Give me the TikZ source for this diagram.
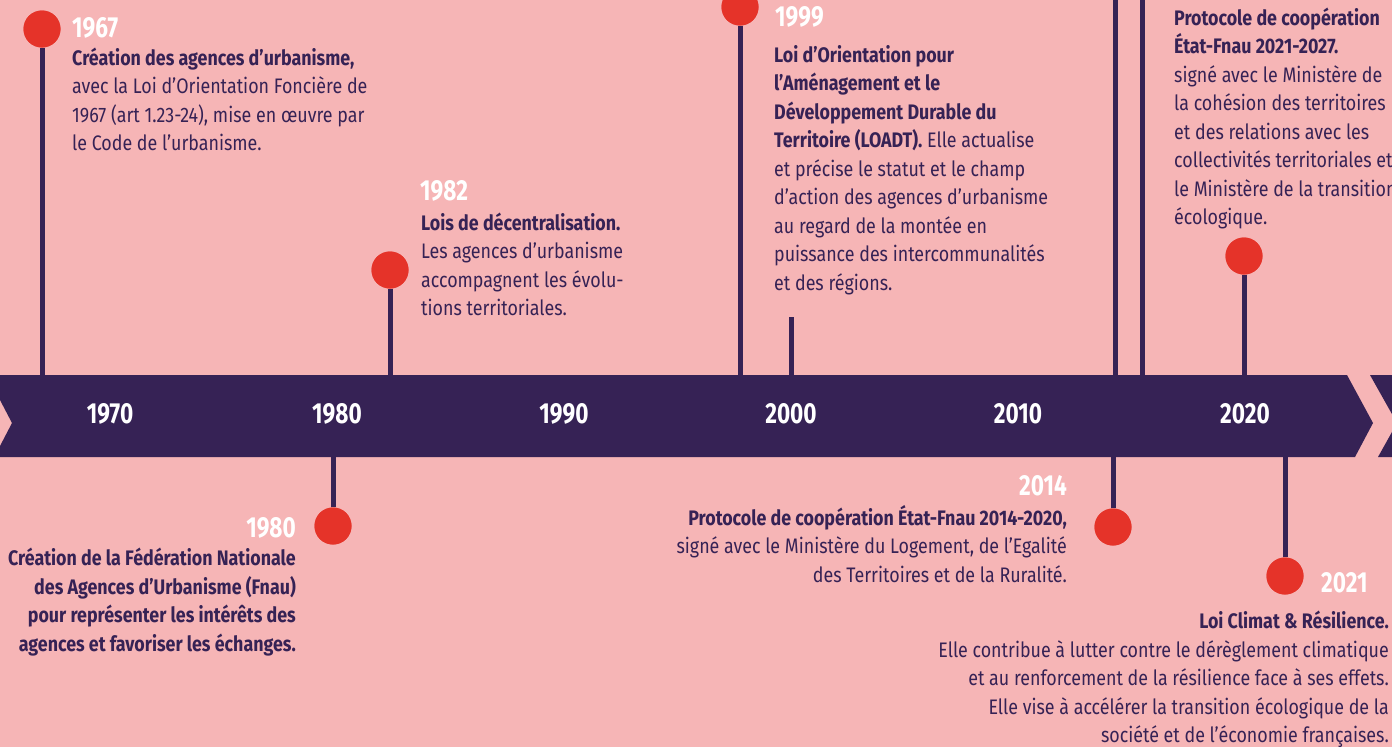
\documentclass[tikz,border=0pt]{standalone}
\usepackage{fontspec}
\setmainfont{Fira Sans}[FakeStretch=0.85]
\newfontfamily\yearfont{Fira Sans}[FakeStretch=0.78]
\definecolor{bgpink}{RGB}{246,181,182}
\definecolor{ink}{RGB}{54,34,85}
\definecolor{dotred}{RGB}{229,51,41}
\begin{document}
\begin{tikzpicture}[x=1pt,y=-1pt,
  stem/.style={draw=ink,line width=5pt},
  dot/.style={circle,fill=dotred,minimum size=37pt,inner sep=0pt},
  yearlbl/.style={text=white,font=\yearfont\fontsize{29}{30}\selectfont\bfseries,inner sep=0pt},
  bandyear/.style={yearlbl,anchor=base},
  bodytxt/.style={text=ink,font=\fontsize{21}{28.5}\selectfont,inner sep=0pt}]
\useasboundingbox (0,0) rectangle (1392,747);
\fill[bgpink] (0,0) rectangle (1392,747);
\begin{scope}
\clip (0,0) rectangle (1392,747);
% band
\fill[ink] (0,375) -- (1347,375) -- (1373,423) -- (1355,457) -- (0,457) -- (0,446) -- (12,423) -- (0,400) -- cycle;
\fill[ink] (1370,375) -- (1400,375) -- (1400,457) -- (1378,457) -- (1397,423) -- cycle;
% upper stems without dots
\coordinate (t1a) at (1115,0);
\coordinate (t1b) at (1115,375);
\coordinate (t2a) at (1142,0);
\coordinate (t2b) at (1142,375);
\coordinate (s2000a) at (791,317);
\coordinate (s2000b) at (791,375);
\draw[stem] (t1a) -- (t1b);
\draw[stem] (t2a) -- (t2b);
\draw[stem] (s2000a) -- (s2000b);
% dots
\node[dot] (d1967) at (42,29) {};
\node[dot] (d1980) at (333,526) {};
\node[dot] (d1982) at (390,270) {};
\node[dot] (d1999) at (740,7) {};
\node[dot] (d2014) at (1113,527) {};
\node[dot] (d2021) at (1285,576) {};
\node[dot] (d2027) at (1244,256) {};
\coordinate (b1967) at (42,375);
\coordinate (b1980) at (333,457);
\coordinate (b1982) at (390,375);
\coordinate (b1999) at (740,375);
\coordinate (b2014) at (1113,457);
\coordinate (b2021) at (1285,457);
\coordinate (b2027) at (1244,375);
\draw[stem] (d1967) -- (b1967);
\draw[stem] (d1980) -- (b1980);
\draw[stem] (d1982) -- (b1982);
\draw[stem] (d1999) -- (b1999);
\draw[stem] (d2014) -- (b2014);
\draw[stem] (d2021) -- (b2021);
\draw[stem] (d2027) -- (b2027);
\foreach \d in {d1967,d1980,d1982,d1999,d2014,d2021,d2027} {\node[dot] at (\d) {};}
% band years
\node[bandyear] (y1970) at (110,423) {1970};
\node[bandyear] (y1980) at (337,423) {1980};
\node[bandyear] (y1990) at (564,423) {1990};
\node[bandyear] (y2000) at (791,423) {2000};
\node[bandyear] (y2010) at (1018,423) {2010};
\node[bandyear] (y2020) at (1245,423) {2020};
% event labels (base anchor = baseline of the last line)
\node[yearlbl,anchor=base west] (l1967) at (72,37) {1967};
\node[bodytxt,anchor=base west,align=left] (t1967) at (72,150.5) {\bfseries Création des agences d’urbanisme,\\avec la Loi d’Orientation Foncière de\\1967 (art 1.23-24), mise en œuvre par\\le Code de l’urbanisme.};
\node[yearlbl,anchor=base west] (l1982) at (420,200) {1982};
\node[bodytxt,anchor=base west,align=left] (t1982) at (421,315.5) {\bfseries Lois de décentralisation.\\Les agences d’urbanisme\\accompagnent les évolu-\\tions territoriales.};
\node[yearlbl,anchor=base west] (l1999) at (775,26) {1999};
\node[bodytxt,anchor=base west,align=left] (t1999) at (774,290) {\bfseries Loi d’Orientation pour\\\bfseries l’Aménagement et le\\\bfseries Développement Durable du\\{\bfseries Territoire (LOADT).} Elle actualise\\et précise le statut et le champ\\d’action des agences d’urbanisme\\au regard de la montée en\\puissance des intercommunalités\\et des régions.};
\node[bodytxt,anchor=base west,align=left] (t2027) at (1174,224.5) {\bfseries Protocole de coopération\\\bfseries État-Fnau 2021-2027.\\signé avec le Ministère de\\la cohésion des territoires\\et des relations avec les\\collectivités territoriales et\\le Ministère de la transition\\écologique.};
\node[yearlbl,anchor=base east] (l1980) at (296,537) {1980};
\node[bodytxt,anchor=base east,align=right,font=\fontsize{21}{28.5}\selectfont\bfseries] (t1980) at (296,651) {Création de la Fédération Nationale\\des Agences d’Urbanisme (Fnau)\\pour représenter les intérêts des\\agences et favoriser les échanges.};
\node[yearlbl,anchor=base east] (l2014) at (1067,495) {2014};
\node[bodytxt,anchor=base east,align=right] (t2014) at (1067,582) {\bfseries Protocole de coopération État-Fnau 2014-2020,\\signé avec le Ministère du Logement, de l’Egalité\\des Territoires et de la Ruralité.};
\node[yearlbl,anchor=base west] (l2021) at (1321,592) {2021};
\node[bodytxt,anchor=base east,align=right] (t2021) at (1389,742.5) {\bfseries Loi Climat \& Résilience.\\Elle contribue à lutter contre le dérèglement climatique\\et au renforcement de la résilience face à ses effets.\\Elle vise à accélérer la transition écologique de la\\société et de l’économie françaises.};
\end{scope}
\end{tikzpicture}
\end{document}
